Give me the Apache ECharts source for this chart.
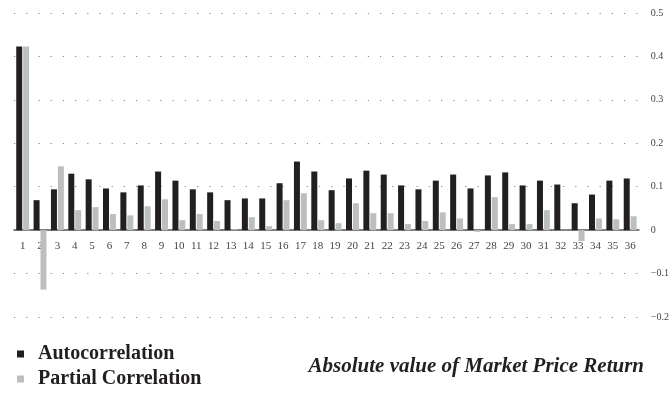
<!DOCTYPE html>
<html>
<head>
<meta charset="utf-8">
<script src="https://cdn.jsdelivr.net/npm/echarts@6/dist/echarts.min.js"></script>
<style>html,body{margin:0;padding:0;background:#fff}#c{width:672px;height:404px}</style>
</head>
<body>
<div id="c"></div>
<script>
const lags = ['1','2','3','4','5','6','7','8','9','10','11','12','13','14','15','16','17','18','19','20','21','22','23','24','25','26','27','28','29','30','31','32','33','34','35','36'];
const autocorrelation = [0.423,0.069,0.094,0.130,0.117,0.096,0.087,0.103,0.135,0.114,0.094,0.087,0.069,0.073,0.073,0.108,0.158,0.135,0.092,0.119,0.137,0.128,0.103,0.094,0.114,0.128,0.096,0.126,0.133,0.103,0.114,0.105,0.062,0.082,0.114,0.119];
const partialCorrelation = [0.423,-0.137,0.147,0.046,0.053,0.037,0.034,0.055,0.071,0.023,0.037,0.021,0.002,0.030,0.009,0.069,0.085,0.023,0.016,0.062,0.039,0.039,0.014,0.021,0.041,0.027,-0.004,0.076,0.014,0.014,0.046,0.001,-0.025,0.027,0.025,0.032];
const seriesNames = ['Autocorrelation','Partial Correlation'];
const titleText = 'Absolute value of Market Price Return';

const serif = '"Liberation Serif", "DejaVu Serif", serif';
const chart = echarts.init(document.getElementById('c'));
chart.setOption({
  animation: false,
  title: {
    text: titleText,
    right: 23, top: 350,
    textStyle: { fontFamily: serif, fontStyle: 'italic', fontWeight: 'bold', fontSize: 21, lineHeight: 24, color: '#231f20' }
  },
  legend: {
    orient: 'vertical', left: 12, top: 339,
    icon: 'rect', itemWidth: 7, itemHeight: 7, itemGap: 5,
    data: seriesNames,
    textStyle: { fontFamily: serif, fontWeight: 'bold', fontSize: 20, lineHeight: 20, color: '#231f20', padding: [0, 0, 0, 9] }
  },
  grid: { left: 14, right: 25, top: 13, bottom: 87, containLabel: false },
  xAxis: {
    type: 'category', data: lags,
    axisLine: { onZero: true, lineStyle: { color: '#555', width: 1.5 } },
    axisTick: { show: false },
    axisLabel: { fontFamily: serif, fontSize: 11, color: '#444', margin: -71, verticalAlign: 'middle', interval: 0 },
    splitLine: { show: false }
  },
  yAxis: {
    type: 'value', position: 'right', min: -0.2, max: 0.5, interval: 0.1,
    axisLine: { show: false }, axisTick: { show: false },
    axisLabel: {
      fontFamily: serif, fontSize: 10, color: '#444', margin: 12,
      formatter: v => Math.abs(v) < 1e-9 ? '0' : (v < 0 ? '\u2212' : '') + Math.abs(v).toFixed(1)
    },
    splitLine: { lineStyle: { color: '#888', width: 1.2, type: [1.2, 11] } }
  },
  series: [
    { name: seriesNames[0], type: 'bar', data: autocorrelation, barWidth: 6, barGap: '15%', itemStyle: { color: '#231f20' } },
    { name: seriesNames[1], type: 'bar', data: partialCorrelation, barWidth: 6, itemStyle: { color: '#bcbec0' } }
  ]
});
</script>
</body>
</html>
